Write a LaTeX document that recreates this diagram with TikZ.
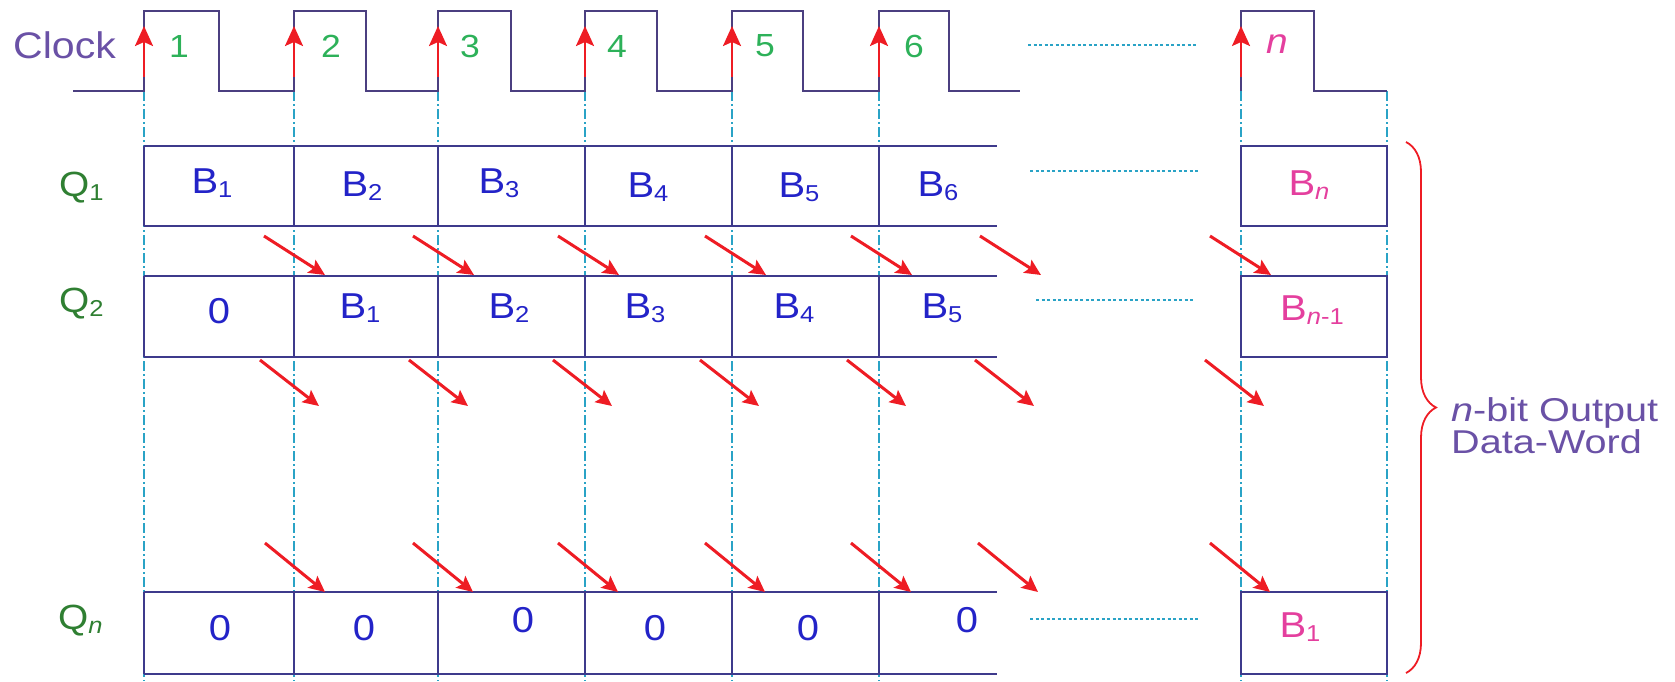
\documentclass[tikz,border=0pt]{standalone}
\usepackage{fontspec}
\setmainfont[FakeStretch=1.11]{Liberation Sans}
\newfontfamily\widefont[FakeStretch=1.2]{Liberation Sans}
\usetikzlibrary{arrows.meta,decorations.pathreplacing}
\definecolor{wavec}{HTML}{4B3F80}
\definecolor{boxc}{HTML}{3E3A8C}
\definecolor{guidec}{HTML}{2AA3C6}
\definecolor{redc}{HTML}{EE1C24}
\definecolor{bluec}{HTML}{2323C8}
\definecolor{qgreen}{HTML}{2F7F32}
\definecolor{ngreen}{HTML}{2DB159}
\definecolor{magc}{HTML}{E43F9E}
\definecolor{purpc}{HTML}{6A51A6}
\newcommand\lsub[1]{\raisebox{-4pt}{\fontsize{23}{23}\selectfont #1}}
\begin{document}
\begin{tikzpicture}[x=1pt,y=-1pt,
  wavepath/.style={draw=wavec,line width=2pt,line join=miter},
  cellline/.style={draw=boxc,line width=2pt},
  guide/.style={draw=guidec,line width=1.8pt,dash pattern=on 10pt off 3pt on 2pt off 3pt},
  dotline/.style={draw=guidec,line width=1.6pt,dash pattern=on 3pt off 2.5pt},
  edgearrow/.style={draw=redc,line width=2.5pt,-{Stealth[length=20pt,width=18pt,inset=4pt]}},
  shiftarrow/.style={draw=redc,line width=3pt,-{Stealth[length=16pt,width=15pt,inset=3pt]}},
  celltxt/.style={font=\fontsize{36}{36}\selectfont,text=bluec,inner sep=0pt,anchor=base},
  righttxt/.style={font=\fontsize{36}{36}\selectfont,text=magc,inner sep=0pt,anchor=base},
  qtxt/.style={font=\fontsize{35}{35}\selectfont,text=qgreen,inner sep=0pt,anchor=base west},
  numtxt/.style={font=\fontsize{32}{32}\selectfont,text=ngreen,inner sep=0pt},
  sidetxt/.style={font=\widefont\fontsize{33}{33}\selectfont,text=purpc,inner sep=0pt,anchor=base west},
  bracec/.style={draw=redc,line width=1.8pt,decorate,decoration={brace,amplitude=30pt}}
]
\useasboundingbox (0,0) rectangle (1675,681);

% guides
\foreach \x in {144,294,438,585,732,879,1241,1387}
  \draw[guide] (\x,91) -- (\x,681);

% clock waveform
\draw[wavepath] (73,91) -- (144,91) -- (144,11) -- (219,11) -- (219,91) -- (294,91) -- (294,11) -- (366,11) -- (366,91) -- (438,91) -- (438,11) -- (511,11) -- (511,91) -- (585,91) -- (585,11) -- (657,11) -- (657,91) -- (732,91) -- (732,11) -- (803,11) -- (803,91) -- (879,91) -- (879,11) -- (949,11) -- (949,91) -- (1020,91);
\draw[wavepath] (1241,91) -- (1241,11) -- (1314,11) -- (1314,91) -- (1387,91);

% clock edge arrows
\foreach \x [count=\i] in {144,294,438,585,732,879,1241} {
  \coordinate (ce\i b) at (\x,77);
  \coordinate (ce\i t) at (\x,26);
  \draw[edgearrow] (ce\i b) -- (ce\i t);
}

% register rows
\foreach \t/\b in {146/226, 276/357, 592/674} {
  \draw[cellline] (144,\t) -- (997,\t);
  \draw[cellline] (144,\b) -- (997,\b);
  \foreach \x in {144,294,438,585,732,879}
    \draw[cellline] (\x,\t) -- (\x,\b);
  \draw[cellline] (1241,\t) rectangle (1387,\b);
}

% dotted continuation lines
\draw[dotline] (1028,45) -- (1198,45);
\draw[dotline] (1030,171) -- (1200,171);
\draw[dotline] (1036,300) -- (1195,300);
\draw[dotline] (1030,619) -- (1200,619);

% shift arrows
\foreach \sx [count=\i] in {264,413,558,705,851,980,1210} {
  \coordinate (sa\i) at (\sx,236);
  \coordinate (ta\i) at (\sx+61,275);
  \draw[shiftarrow] (sa\i) -- (ta\i);
}
\foreach \sx [count=\i] in {260,409,553,700,847,975,1205} {
  \coordinate (sb\i) at (\sx,360);
  \coordinate (tb\i) at (\sx+59,406);
  \draw[shiftarrow] (sb\i) -- (tb\i);
}
\foreach \sx [count=\i] in {265,413,558,705,851,978,1210} {
  \coordinate (sc\i) at (\sx,543);
  \coordinate (tc\i) at (\sx+60,592);
  \draw[shiftarrow] (sc\i) -- (tc\i);
}

% clock labels
\node[font=\fontsize{37}{37}\selectfont,text=purpc,inner sep=0pt,anchor=base west] (clk) at (13,58) {Clock};
\foreach \x/\t [count=\i] in {179/1,331/2,470/3,617/4,765/5,914/6}
  \node[numtxt] (num\i) at (\x,46) {\t};
\node[font=\fontsize{35}{35}\selectfont\itshape,text=magc,inner sep=0pt] (numn) at (1277,44) {n};

% row labels
\node[qtxt] (q1) at (59,196) {Q\lsub{1}};
\node[qtxt] (q2) at (59,312) {Q\lsub{2}};
\node[qtxt] (qn) at (58,629) {Q\lsub{\itshape n}};

% Q1 row contents
\node[celltxt] (r1c1) at (212,193) {B\lsub{1}};
\node[celltxt] (r1c2) at (362,196) {B\lsub{2}};
\node[celltxt] (r1c3) at (499,193) {B\lsub{3}};
\node[celltxt] (r1c4) at (648,197) {B\lsub{4}};
\node[celltxt] (r1c5) at (799,197) {B\lsub{5}};
\node[celltxt] (r1c6) at (938,196) {B\lsub{6}};
\node[righttxt] (r1n) at (1309,195) {B\lsub{\itshape n}};

% Q2 row contents
\node[celltxt] (r2c1) at (219,323) {0};
\node[celltxt] (r2c2) at (360,318) {B\lsub{1}};
\node[celltxt] (r2c3) at (509,318) {B\lsub{2}};
\node[celltxt] (r2c4) at (645,318) {B\lsub{3}};
\node[celltxt] (r2c5) at (794,318) {B\lsub{4}};
\node[celltxt] (r2c6) at (942,318) {B\lsub{5}};
\node[righttxt] (r2n) at (1312,320) {B\lsub{{\itshape n}-1}};

% Qn row contents
\node[celltxt] (r3c1) at (220,640) {0};
\node[celltxt] (r3c2) at (364,640) {0};
\node[celltxt] (r3c3) at (523,632) {0};
\node[celltxt] (r3c4) at (655,640) {0};
\node[celltxt] (r3c5) at (808,640) {0};
\node[celltxt] (r3c6) at (967,632) {0};
\node[righttxt] (r3n) at (1300,637) {B\lsub{1}};

% brace and output label
\coordinate (brt) at (1406,142);
\coordinate (brb) at (1406,673);
\draw[bracec] (brt) -- (brb);
\node[sidetxt] (out1) at (1451,421) {\textit{n}-bit Output};
\node[sidetxt] (out2) at (1451,453) {Data-Word};
\end{tikzpicture}
\end{document}
